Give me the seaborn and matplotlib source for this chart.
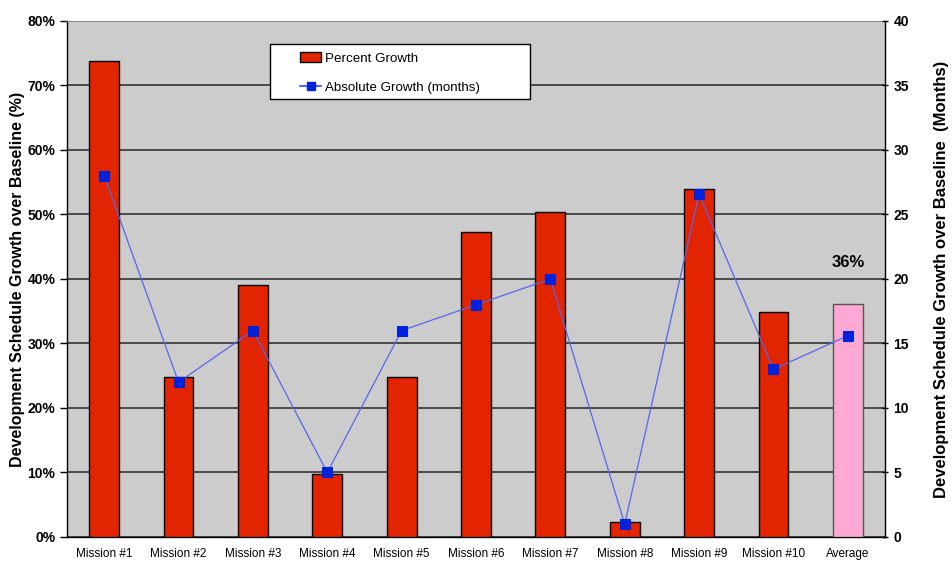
import numpy as np
import pandas as pd
import seaborn as sns
import matplotlib.pyplot as plt
from matplotlib.patches import Patch, Rectangle
from matplotlib.lines import Line2D

missions = ["Mission #1", "Mission #2", "Mission #3", "Mission #4", "Mission #5",
            "Mission #6", "Mission #7", "Mission #8", "Mission #9", "Mission #10", "Average"]
pct_growth = [73.8, 24.8, 39.1, 9.7, 24.8, 47.3, 50.4, 2.4, 53.9, 34.9, 36.1]
abs_growth = [28, 12, 16, 5, 16, 18, 20, 1, 26.6, 13, 15.6]

df = pd.DataFrame({"Mission": missions, "Pct": pct_growth, "Months": abs_growth})

sns.set_style("white")
plt.rcParams["font.family"] = ["Liberation Sans", "DejaVu Sans"]
plt.rcParams["text.color"] = "black"
plt.rcParams["axes.labelcolor"] = "black"
plt.rcParams["xtick.color"] = "black"
plt.rcParams["ytick.color"] = "black"

red = "#E32400"
pink = "#FFA8D4"
colors = [red] * 10 + [pink]

fig = plt.figure(figsize=(9.52, 5.63), dpi=100)
ax = fig.add_axes([0.0704, 0.0462, 0.8592, 0.9165])
ax.set_facecolor("#CCCCCC")

sns.barplot(data=df, x="Mission", y="Pct", hue="Mission", palette=colors, legend=False,
            saturation=1, width=0.4, edgecolor="black", linewidth=1, ax=ax, zorder=3)
# lighter outline on the average bar
ax.patches[-1].set_edgecolor("#555555")

ax.set_ylim(0, 80)
ax.set_xlim(-0.5, len(missions) - 0.5)
ax.set_yticks(np.arange(0, 81, 10))
ax.set_yticklabels([f"{v}%" for v in range(0, 81, 10)], fontweight="bold", fontsize=10)
ax.yaxis.grid(True, color="#333333", linewidth=1.2, zorder=0)
ax.set_axisbelow(True)
ax.set_xlabel("")
ax.set_ylabel("Development Schedule Growth over Baseline (%)", fontweight="bold",
              fontsize=11.5, labelpad=2)

# category ticks between bars
ax.set_xticks(np.arange(len(missions)))
ax.set_xticklabels(missions, fontsize=8.5)
ax.tick_params(axis="x", length=0, pad=8)
ax.set_xticks(np.arange(-0.5, len(missions), 1), minor=True)
ax.tick_params(axis="x", which="minor", length=6, width=1, direction="out", color="black")
ax.tick_params(axis="y", length=5, width=1, direction="out", color="black")

for side in ["left", "bottom", "right"]:
    ax.spines[side].set_color("black")
    ax.spines[side].set_linewidth(1)
ax.spines["top"].set_color("#888888")

ax2 = ax.twinx()
sns.lineplot(x=np.arange(len(missions)), y=abs_growth, ax=ax2, color="#5566EE",
             linewidth=0.9, marker="s", markersize=7, markerfacecolor="#0022DD",
             markeredgecolor="#0022DD", zorder=5)
ax2.set_ylim(0, 40)
ax2.set_yticks(np.arange(0, 41, 5))
ax2.set_yticklabels([str(v) for v in range(0, 41, 5)], fontweight="bold", fontsize=10)
ax2.tick_params(axis="y", length=5, width=1, direction="inout", color="black")
ax2.set_ylabel("Development Schedule Growth over Baseline  (Months)", fontweight="bold",
               fontsize=12, labelpad=18)
for s in ax2.spines.values():
    s.set_visible(False)

ax2.text(len(missions) - 1, 42.5 / 2, "36%", fontweight="bold", fontsize=12,
         ha="center", va="center")

# legend: white box with entries indented
ax2.add_patch(Rectangle((0.248, 0.849), 0.318, 0.106, transform=ax2.transAxes,
                        facecolor="white", edgecolor="black", linewidth=1, zorder=10))
handles = [Patch(facecolor=red, edgecolor="black", label="Percent Growth"),
           Line2D([0], [0], color="#5566EE", marker="s", markersize=6,
                  markerfacecolor="#0022DD", markeredgecolor="#0022DD",
                  label="Absolute Growth (months)")]
leg = ax2.legend(handles=handles, loc="upper left", bbox_to_anchor=(0.285, 0.939),
                 fontsize=9.6, frameon=False, borderpad=0, labelspacing=1.25,
                 handlelength=1.6, handletextpad=0.3, borderaxespad=0)
leg.set_zorder(11)

plt.savefig("out.png", dpi=100)
